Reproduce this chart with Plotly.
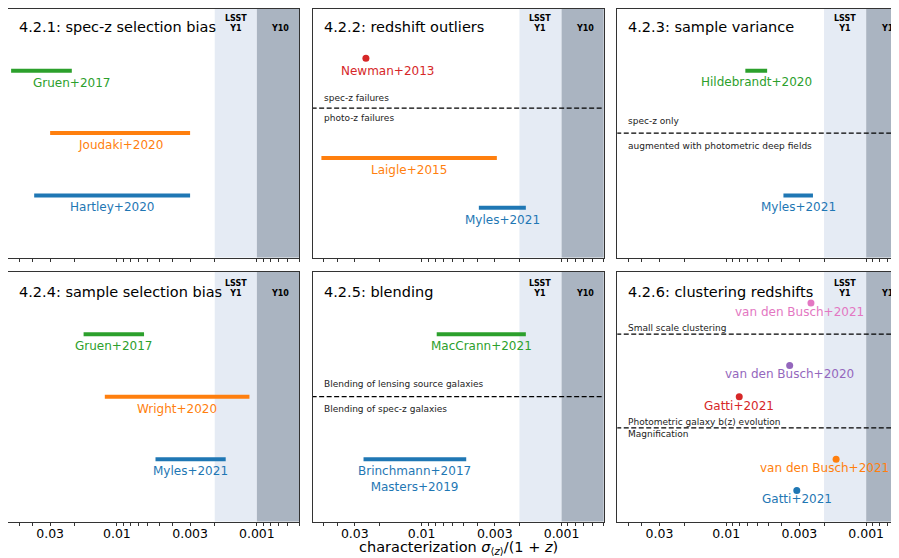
import numpy as np
import plotly.graph_objects as go

# page body has an 8px margin, so the figure covers window pixels 8..899 x 8..558
OFF = 8.0
W, H = 891, 550

# ---------------- data ----------------
titles = ["4.2.1: spec-z selection bias", "4.2.2: redshift outliers", "4.2.3: sample variance",
          "4.2.4: sample selection bias", "4.2.5: blending", "4.2.6: clustering redshifts"]
y_max = [4, 5, 4, 4, 4, 8]

# survey requirement bands (sigma/(1+z))
lsst_y1_band = [0.002, 0.001]
y10_band = [0.001, 0.0004]
lsst_y1_label_x = 0.00142
y10_label_x = 0.00068

# tick marks
major_ticks = [0.03, 0.01, 0.003, 0.001]
major_labels = ["0.03", "0.01", "0.003", "0.001"]
minor_ticks = [0.05, 0.04, 0.02, 0.009, 0.008, 0.007, 0.006, 0.005, 0.004, 0.002,
               0.0009, 0.0008, 0.0007, 0.0006, 0.0005]

# each panel: names, low value, high value (None -> single point), y level, label x override
p1_names = ["Gruen+2017", "Joudaki+2020", "Hartley+2020"]
p1_lo = [0.057, 0.030, 0.039]
p1_hi = [0.021, 0.0030, 0.0030]
p1_y = [3, 2, 1]
p1_label_x = [0.0212, None, None]
p1_colors = ["#2ca02c", "#ff7f0e", "#1f77b4"]

p2_names = ["Newman+2013", "Laigle+2015", "Myles+2021"]
p2_lo = [0.025, 0.052, 0.0039]
p2_hi = [None, 0.0029, 0.0018]
p2_y = [4, 2, 1]
p2_label_x = [0.0175, None, None]
p2_colors = ["#d62728", "#ff7f0e", "#1f77b4"]

p3_names = ["Hildebrandt+2020", "Myles+2021"]
p3_lo = [0.0073, 0.0039]
p3_hi = [0.0051, 0.0024]
p3_y = [3, 1]
p3_label_x = [None, None]
p3_colors = ["#2ca02c", "#1f77b4"]

p4_names = ["Gruen+2017", "Wright+2020", "Myles+2021"]
p4_lo = [0.0173, 0.0122, 0.0053]
p4_hi = [0.0064, 0.00113, 0.00167]
p4_y = [3, 2, 1]
p4_label_x = [None, None, None]
p4_colors = ["#2ca02c", "#ff7f0e", "#1f77b4"]

p5_names = ["MacCrann+2021", "Brinchmann+2017<br>Masters+2019"]
p5_lo = [0.0078, 0.026]
p5_hi = [0.0018, 0.0048]
p5_y = [3, 1]
p5_label_x = [None, None]
p5_colors = ["#2ca02c", "#1f77b4"]

p6_names = ["van den Busch+2021", "van den Busch+2020", "Gatti+2021", "van den Busch+2021", "Gatti+2021"]
p6_lo = [0.00248, 0.00352, 0.00807, 0.00164, 0.00313]
p6_hi = [None, None, None, None, None]
p6_y = [7, 5, 4, 2, 1]
p6_label_x = [0.0030, None, None, 0.00197, None]
p6_colors = ["#e377c2", "#9467bd", "#d62728", "#ff7f0e", "#1f77b4"]

# dashed separators: y level, text above, text below
p2_dash_y = [3]
p2_dash_above = ["spec-z failures"]
p2_dash_below = ["photo-z failures"]
p3_dash_y = [2]
p3_dash_above = ["spec-z only"]
p3_dash_below = ["augmented with photometric deep fields"]
p5_dash_y = [2]
p5_dash_above = ["Blending of lensing source galaxies"]
p5_dash_below = ["Blending of spec-z galaxies"]
p6_dash_y = [6, 3]
p6_dash_above = ["Small scale clustering", "Photometric galaxy b(z) evolution"]
p6_dash_below = ["", "Magnification"]

panels = [
    (p1_names, p1_lo, p1_hi, p1_y, p1_label_x, p1_colors, [], [], []),
    (p2_names, p2_lo, p2_hi, p2_y, p2_label_x, p2_colors, p2_dash_y, p2_dash_above, p2_dash_below),
    (p3_names, p3_lo, p3_hi, p3_y, p3_label_x, p3_colors, p3_dash_y, p3_dash_above, p3_dash_below),
    (p4_names, p4_lo, p4_hi, p4_y, p4_label_x, p4_colors, [], [], []),
    (p5_names, p5_lo, p5_hi, p5_y, p5_label_x, p5_colors, p5_dash_y, p5_dash_above, p5_dash_below),
    (p6_names, p6_lo, p6_hi, p6_y, p6_label_x, p6_colors, p6_dash_y, p6_dash_above, p6_dash_below),
]

# ---------------- layout geometry (window pixels) ----------------
cols_px = [(8.0, 299.0), (312.7, 603.7), (617.3, 899.0)]
rows_px = [(8.5, 257.7), (271.7, 521.7)]
ref_tops = [6.7, 271.7]
DEC_PX = 139.96
LOG_LEFT = np.log10(0.06)
label_shift = [12, 12.3, 11.5, 12, 12, 9]

FONT = "DejaVu Sans"
AXC = "#333333"
Y1_COLOR = "#e5ebf4"
Y10_COLOR = "#aab4c1"

fig = go.Figure()
annotations = []
layout = {}

tickvals = major_ticks + minor_ticks
ticktext = major_labels + [""] * len(minor_ticks)

for i, (names, lo, hi, ys, lab_x, colors, dash_y, dash_above, dash_below) in enumerate(panels):
    r, c = divmod(i, 3)
    n = i + 1
    xa = "x" if n == 1 else f"x{n}"
    ya = "y" if n == 1 else f"y{n}"
    x0p, x1p = cols_px[c]
    y0p, y1p = rows_px[r]
    pw = x1p - x0p
    ph = y1p - y0p
    log_right = LOG_LEFT - pw / DEC_PX
    ym = y_max[i]

    layout["xaxis" if n == 1 else f"xaxis{n}"] = dict(
        type="log", domain=[(x0p - OFF) / W, min(1.0, (x1p - OFF) / W)], range=[LOG_LEFT, log_right],
        anchor=ya, showgrid=False, zeroline=False, showline=True, mirror=True,
        linecolor=AXC, linewidth=1, ticks="outside", ticklen=3, tickwidth=1, tickcolor=AXC,
        tickmode="array", tickvals=tickvals, ticktext=ticktext, ticklabelstandoff=-3,
        showticklabels=(r == 1), tickfont=dict(family=FONT, size=12.5, color="black"),
    )
    layout["yaxis" if n == 1 else f"yaxis{n}"] = dict(
        domain=[1 - (y1p - OFF) / H, min(1.0, 1 - (y0p - OFF) / H)], range=[0, ym], anchor=xa,
        showgrid=False, zeroline=False, showline=True, mirror=(c < 2),
        linecolor=AXC, linewidth=1, ticks="", showticklabels=False,
    )

    # bands
    for band, col in ((lsst_y1_band, Y1_COLOR), (y10_band, Y10_COLOR)):
        fig.add_trace(go.Scatter(
            x=[band[0], band[1], band[1], band[0], band[0]], y=[0, 0, ym, ym, 0],
            fill="toself", fillcolor=col, mode="lines", line=dict(width=0, color=col),
            hoverinfo="skip", showlegend=False, xaxis=xa, yaxis=ya))

    # dashed separators
    for dy, ta, tb in zip(dash_y, dash_above, dash_below):
        fig.add_trace(go.Scatter(
            x=[0.1, 0.0003], y=[dy, dy], mode="lines",
            line=dict(color="black", width=1.2, dash="5px,2.5px"),
            hoverinfo="skip", showlegend=False, xaxis=xa, yaxis=ya))
        for txt, off in ((ta, 0.2), (tb, -0.2)):
            if txt:
                annotations.append(dict(
                    text=txt, x=9 / pw, xref=f"{xa} domain", y=dy + off, yref=ya,
                    xanchor="left", yanchor="middle", showarrow=False,
                    font=dict(family=FONT, size=9, color="#222222")))

    # measurements
    for name, a, b, yv, lx, col in zip(names, lo, hi, ys, lab_x, colors):
        if b is None:
            fig.add_trace(go.Scatter(
                x=[a], y=[yv], mode="markers", marker=dict(color=col, size=7),
                hoverinfo="skip", showlegend=False, xaxis=xa, yaxis=ya))
            centre = a
        else:
            fig.add_trace(go.Scatter(
                x=[a, b], y=[yv, yv], mode="lines", line=dict(color=col, width=4),
                hoverinfo="skip", showlegend=False, xaxis=xa, yaxis=ya))
            centre = np.sqrt(a * b)
        if lx is not None:
            centre = lx
        nlines = name.count("<br>") + 1
        annotations.append(dict(
            text=name, x=float(np.log10(centre)), xref=xa, y=yv, yref=ya,
            xanchor="center", yanchor="middle", showarrow=False,
            yshift=-(label_shift[i] + (nlines - 1) * 7.5),
            font=dict(family=FONT, size=12, color=col)))

    ref_top = ref_tops[r]
    # title (20 px below reference panel top)
    annotations.append(dict(
        text=titles[i], x=9 / pw, xref=f"{xa} domain", y=1 - (ref_top + 20 - y0p) / ph, yref=f"{ya} domain",
        xanchor="left", yanchor="middle", showarrow=False,
        font=dict(family=FONT, size=14.5, color="black")))
    # band labels
    annotations.append(dict(
        text="<b>LSST<br>Y1</b>", x=float(np.log10(lsst_y1_label_x)), xref=xa,
        y=1 - (ref_top + 16.6 - y0p) / ph, yref=f"{ya} domain", xanchor="center", yanchor="middle",
        showarrow=False, font=dict(family=FONT, size=8, color="black")))
    annotations.append(dict(
        text="<b>Y10</b>", x=float(np.log10(y10_label_x)), xref=xa,
        y=1 - (ref_top + 22 - y0p) / ph, yref=f"{ya} domain", xanchor="center", yanchor="middle",
        showarrow=False, font=dict(family=FONT, size=8, color="black")))

# x-axis title
annotations.append(dict(
    text="characterization <i>σ</i><sub>⟨<i>z</i>⟩</sub>/(1 + <i>z</i>)",
    x=(458.4 - OFF) / W, xref="paper", y=1 - (547.5 - OFF) / H, yref="paper",
    xanchor="center", yanchor="middle", showarrow=False,
    font=dict(family=FONT, size=14.5, color="black")))

fig.update_layout(
    width=W, height=H, margin=dict(l=0, r=0, t=0, b=0),
    paper_bgcolor="white", plot_bgcolor="white", showlegend=False,
    annotations=annotations, **layout)

fig.write_html("out.html")
